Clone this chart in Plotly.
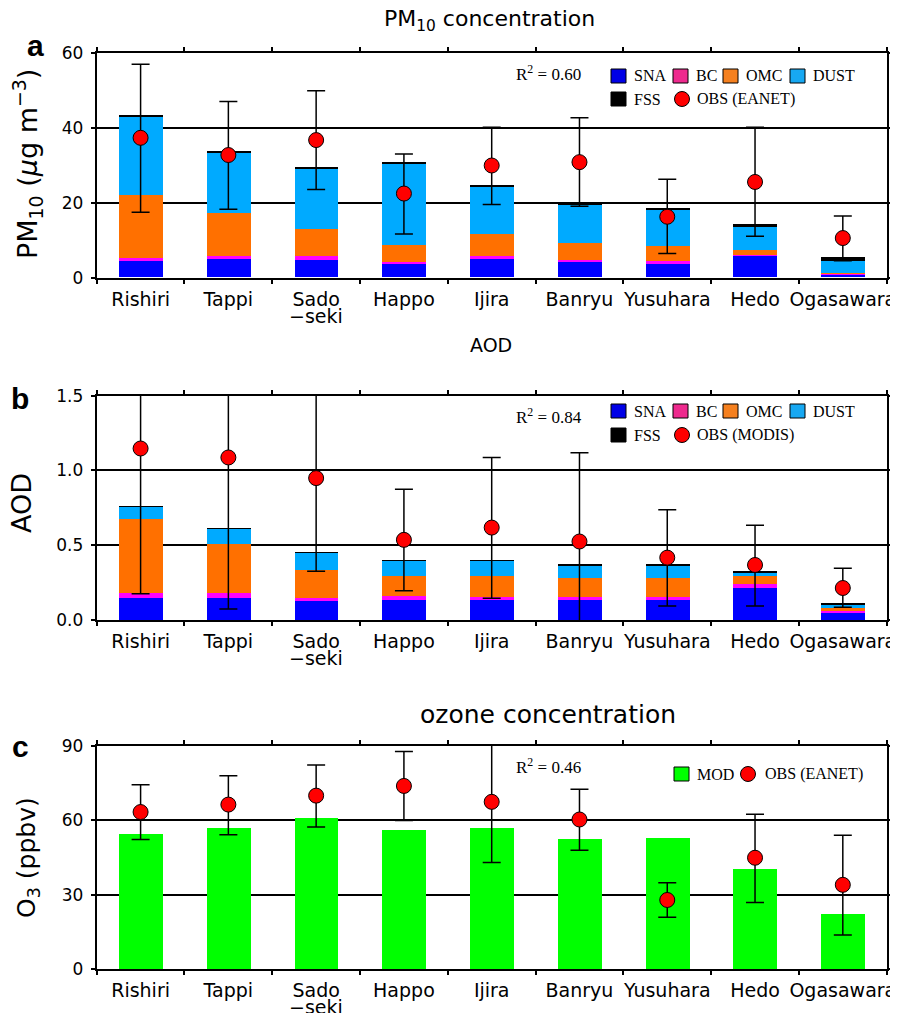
import plotly.graph_objects as go

# page body has an 8px margin, so the figure is drawn at (8, 8)
OFF = 8
W, H = 898 - OFF, 1013 - OFF

sites = ["Rishiri", "Tappi", "Sado\u2212seki", "Happo", "Ijira", "Banryu", "Yusuhara", "Hedo", "Ogasawara"]
# tick labels (first line); the Sado-seki label wraps onto a second line
tick_line1 = ["Rishiri", "Tappi", "Sado", "Happo", "Ijira", "Banryu", "Yusuhara", "Hedo", "Ogasawara"]
wrap_site, wrap_line2 = "Sado\u2212seki", "\u2212seki"

# Panel a: PM10 components (ug m-3), stacked
pm_sna = [4.4, 4.9, 4.7, 3.8, 4.9, 4.2, 3.8, 5.9, 0.7]
pm_bc = [0.8, 0.8, 1.0, 0.4, 0.8, 0.5, 0.5, 0.2, 0.3]
pm_omc = [16.7, 11.5, 7.3, 4.4, 6.0, 4.5, 4.0, 1.3, 0.2]
pm_dust = [21.0, 16.1, 16.0, 21.9, 12.6, 10.3, 9.6, 6.3, 3.3]
pm_fss = [0.3, 0.4, 0.5, 0.1, 0.3, 0.4, 0.6, 0.5, 0.9]
pm_obs = [37.4, 32.8, 36.8, 22.5, 30.0, 30.9, 16.3, 25.6, 10.6]
pm_obs_hi = [57.1, 47.1, 50.0, 33.1, 40.2, 42.8, 26.3, 40.2, 16.5]
pm_obs_lo = [17.5, 18.3, 23.6, 11.7, 19.6, 19.1, 6.5, 11.1, 4.5]

# Panel b: AOD components, stacked
aod_sna = [0.150, 0.150, 0.129, 0.138, 0.138, 0.138, 0.138, 0.219, 0.051]
aod_bc = [0.033, 0.031, 0.021, 0.023, 0.020, 0.020, 0.020, 0.022, 0.012]
aod_omc = [0.497, 0.330, 0.189, 0.138, 0.141, 0.123, 0.123, 0.058, 0.022]
aod_dust = [0.081, 0.101, 0.112, 0.098, 0.098, 0.087, 0.087, 0.020, 0.022]
aod_fss = [0.002, 0.002, 0.002, 0.003, 0.003, 0.005, 0.005, 0.009, 0.011]
aod_obs = [1.147, 1.087, 0.949, 0.536, 0.618, 0.525, 0.417, 0.368, 0.214]
aod_obs_hi = [2.12, 2.10, 1.57, 0.875, 1.087, 1.118, 0.737, 0.634, 0.346]
aod_obs_lo = [0.176, 0.074, 0.326, 0.196, 0.145, -0.068, 0.094, 0.094, 0.085]

# Panel c: ozone (ppbv)
o3_mod = [54.4, 56.8, 61.2, 56.0, 56.8, 52.4, 53.0, 40.3, 22.2]
o3_obs = [63.3, 66.3, 69.9, 73.8, 67.4, 60.3, 27.9, 44.9, 34.0]
o3_obs_hi = [74.3, 77.9, 82.2, 87.7, 91.8, 72.5, 34.8, 62.4, 54.0]
o3_obs_lo = [52.2, 54.2, 57.3, 59.9, 43.0, 47.9, 21.0, 26.9, 13.8]

r2_labels = ["0.60", "0.84", "0.46"]

C_SNA, C_BC, C_OMC, C_DUST, C_FSS = "#0000FF", "#FF00FF", "#FF7000", "#00AAFF", "#000000"
L_SNA, L_BC, L_OMC, L_DUST = "#0000E6", "#EE2A8E", "#F5801F", "#17A8F2"
C_MOD = "#00FF00"
SANS = "DejaVu Sans"
SERIF = "Liberation Serif"


def px(x):
    return (x - OFF) / W


def py(y):
    return 1 - (y - OFF) / H


fig = go.Figure()


def add_stack(axn, comps):
    xa = "x" if axn == 1 else f"x{axn}"
    ya = "y" if axn == 1 else f"y{axn}"
    for vals, col in comps:
        fig.add_trace(go.Bar(x=sites, y=vals, width=0.5, marker=dict(color=col, line=dict(width=0)),
                             xaxis=xa, yaxis=ya, showlegend=False, hoverinfo="skip"))


def add_obs(axn, obs, hi, lo):
    xa = "x" if axn == 1 else f"x{axn}"
    ya = "y" if axn == 1 else f"y{axn}"
    fig.add_trace(go.Scatter(
        x=sites, y=obs, mode="markers", xaxis=xa, yaxis=ya, showlegend=False,
        marker=dict(size=15, color="#FF0000", line=dict(color="black", width=1)),
        error_y=dict(type="data", symmetric=False,
                     array=[h - o for h, o in zip(hi, obs)],
                     arrayminus=[o - l for o, l in zip(obs, lo)],
                     color="black", thickness=1.5, width=9)))


add_stack(1, [(pm_sna, C_SNA), (pm_bc, C_BC), (pm_omc, C_OMC), (pm_dust, C_DUST), (pm_fss, C_FSS)])
add_obs(1, pm_obs, pm_obs_hi, pm_obs_lo)
add_stack(2, [(aod_sna, C_SNA), (aod_bc, C_BC), (aod_omc, C_OMC), (aod_dust, C_DUST), (aod_fss, C_FSS)])
add_obs(2, aod_obs, aod_obs_hi, aod_obs_lo)
add_stack(3, [(o3_mod, C_MOD)])
add_obs(3, o3_obs, o3_obs_hi, o3_obs_lo)

xdom = [px(96.7), px(886.7)]
ybot = [277.7, 620.0, 969.3]
ytop = [53.3, 395.7, 745.7]
ydoms = [[py(b), py(t)] for b, t in zip(ybot, ytop)]
yranges = [[0, 60], [0, 1.5], [0, 90]]
ytv = [[0, 20, 40, 60], [0, 0.5, 1.0, 1.5], [0, 30, 60, 90]]
ytt = [["0", "20", "40", "60"], ["0.0", "0.5", "1.0", "1.5"], ["0", "30", "60", "90"]]

layout = dict(
    width=W, height=H, template="none", barmode="stack", bargap=0,
    margin=dict(l=0, r=0, t=0, b=0, pad=0),
    paper_bgcolor="white", plot_bgcolor="white",
    showlegend=False,
)
for i in range(3):
    n = i + 1
    xk = "xaxis" if n == 1 else f"xaxis{n}"
    yk = "yaxis" if n == 1 else f"yaxis{n}"
    layout[xk] = dict(domain=xdom, anchor="y" if n == 1 else f"y{n}", type="category",
                      categoryorder="array", categoryarray=sites,
                      tickmode="array", tickvals=sites, ticktext=tick_line1,
                      range=[-0.5, 8.5], tickson="boundaries", ticks="outside", ticklen=4,
                      tickwidth=1.5, tickcolor="black", showline=True, linewidth=2,
                      linecolor="black", mirror="allticks", showgrid=False, zeroline=False,
                      tickangle=0,
                      tickfont=dict(family=SANS, size=19, color="black"), ticklabelstandoff=3)
    layout[yk] = dict(domain=ydoms[i], anchor="x" if n == 1 else f"x{n}", range=yranges[i],
                      tickvals=ytv[i], ticktext=ytt[i], ticks="outside", ticklen=4,
                      tickwidth=1.5, tickcolor="black", showline=True, linewidth=2,
                      linecolor="black", mirror="allticks", showgrid=True, gridcolor="black",
                      gridwidth=1.5, zeroline=False, ticklabelstandoff=4,
                      tickfont=dict(family=SANS, size=17, color="black"))
fig.update_layout(**layout)

ann = []
# second line of the wrapped tick label
for i in range(3):
    n = i + 1
    ann.append(dict(text=wrap_line2, xref="x" if n == 1 else f"x{n}", x=wrap_site,
                    y=py(ybot[i] + 38), font=dict(family=SANS, size=19)))
# titles
ann.append(dict(text="PM<sub>10</sub> concentration", x=px(489), y=py(21), font=dict(family=SANS, size=22)))
ann.append(dict(text="AOD", x=px(491), y=py(345), font=dict(family=SANS, size=19)))
ann.append(dict(text="ozone concentration", x=px(548), y=py(714), font=dict(family=SANS, size=25)))
# panel letters
ann.append(dict(text="<b>a</b>", x=px(35), y=py(45), font=dict(family="Liberation Sans", size=30)))
ann.append(dict(text="<b>b</b>", x=px(20), y=py(398), font=dict(family="Liberation Sans", size=30)))
ann.append(dict(text="<b>c</b>", x=px(20), y=py(746), font=dict(family="Liberation Sans", size=30)))
# y titles
ann.append(dict(text="PM<sub>10</sub> (<i>\u03bc</i>g m<sup>\u22123</sup>)", x=px(27), y=py(164),
                textangle=-90, font=dict(family=SANS, size=27)))
ann.append(dict(text="AOD", x=px(21), y=py(503), textangle=-90, font=dict(family=SANS, size=27)))
ann.append(dict(text="O<sub>3</sub> (ppbv)", x=px(28), y=py(858), textangle=-90, font=dict(family=SANS, size=25)))
# R2
for r2, yc in zip(r2_labels, [73, 416, 766]):
    ann.append(dict(text=f"R<sup>2</sup> = {r2}", x=px(514), y=py(yc), xanchor="left",
                    font=dict(family=SERIF, size=17)))

shapes = []


def rect_item(x0, yc, col, label):
    shapes.append(dict(type="rect", xref="paper", yref="paper", x0=px(x0), x1=px(x0 + 15),
                       y0=py(yc + 7), y1=py(yc - 7), fillcolor=col, line=dict(color="black", width=1)))
    ann.append(dict(text=label, x=px(x0 + 21), y=py(yc), xanchor="left", font=dict(family=SERIF, size=16)))


def circ_item(xc, yc, label, tx):
    shapes.append(dict(type="circle", xref="paper", yref="paper", x0=px(xc - 7.5), x1=px(xc + 7.5),
                       y0=py(yc + 7.5), y1=py(yc - 7.5), fillcolor="#FF0000", line=dict(color="black", width=1)))
    ann.append(dict(text=label, x=px(tx), y=py(yc), xanchor="left", font=dict(family=SERIF, size=16)))


for (r1, r2y, obsname) in [(76, 99, "OBS (EANET)"), (411, 435, "OBS (MODIS)")]:
    rect_item(611, r1, L_SNA, "SNA")
    rect_item(673, r1, L_BC, "BC")
    rect_item(723, r1, L_OMC, "OMC")
    rect_item(790, r1, L_DUST, "DUST")
    rect_item(611, r2y, "#000000", "FSS")
    circ_item(682, r2y, obsname, 695)

rect_item(674, 774, C_MOD, "MOD")
circ_item(748, 774, "OBS (EANET)", 763)

for a in ann:
    a.setdefault("xref", "paper")
    a.setdefault("yref", "paper")
    a.setdefault("showarrow", False)
    a.setdefault("xanchor", "center")
    a.setdefault("yanchor", "middle")
    a["font"].setdefault("color", "black")

fig.update_layout(annotations=ann, shapes=shapes)
fig.write_html("out.html")
